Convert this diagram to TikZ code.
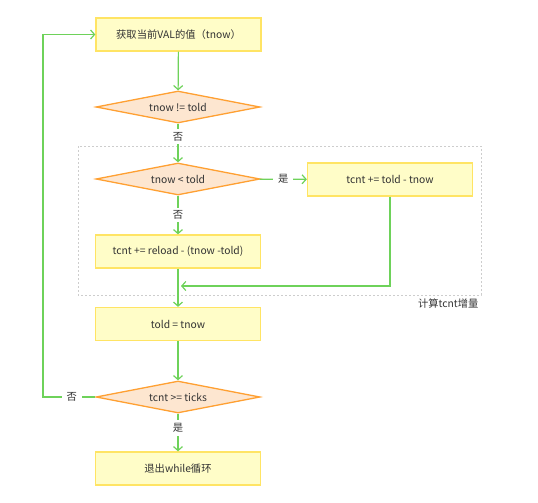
\documentclass[tikz,border=0pt]{standalone}
\usepackage{fontspec}
\setmainfont{Noto Sans CJK SC}
\usepackage{xcolor}
\definecolor{flowgreen}{RGB}{110,210,90}
\definecolor{boxfill}{RGB}{255,253,200}
\definecolor{boxline}{RGB}{255,228,100}
\definecolor{decfill}{RGB}{253,230,208}
\definecolor{decline}{RGB}{255,160,50}
\definecolor{txtgray}{RGB}{51,51,51}
\definecolor{framegray}{RGB}{205,205,205}
\usetikzlibrary{arrows.meta, shapes.geometric}

\tikzset{
  procbox/.style={draw=boxline, fill=boxfill, line width=1.3pt, minimum width=165pt, minimum height=33pt, inner sep=0pt},
  decision/.style={diamond, aspect=5.1, draw=decline, fill=decfill, line width=1.3pt, minimum width=164pt, minimum height=32pt, inner sep=0pt},
  flow/.style={draw=flowgreen, line width=1.2pt, -{Straight Barb[length=4pt,width=9pt]}},
  lbl/.style={fill=white, inner xsep=5pt, inner ysep=3pt, text=txtgray}
}

\begin{document}
\begin{tikzpicture}[x=1pt, y=-1pt, font=\fontsize{10.3pt}{12pt}\selectfont, text=txtgray]
  \useasboundingbox (0,0) rectangle (538,503);

  % group frame
  \draw[framegray, line width=0.8pt, dash pattern=on 2pt off 2pt] (78,146) rectangle (481,295);
  \node[anchor=east] (grouplbl) at (482,304) {计算tcnt增量};

  \node[procbox] (read) at (178.5,34.5) {获取当前VAL的值（tnow）};
  \node[decision] (neq) at (178,107) {tnow != told};
  \node[decision] (less) at (178,179) {tnow < told};
  \node[procbox] (incA) at (390,179.5) {tcnt += told - tnow};
  \node[procbox] (incB) at (178,251.5) {tcnt += reload - (tnow -told)};
  \node[procbox] (save) at (178,324) {told = tnow};
  \node[decision] (done) at (178,397) {tcnt >= ticks};
  \node[procbox] (quit) at (178,468.5) {退出while循环};

  \coordinate (join) at (181,286);
  \coordinate (loop) at (43,397);

  \draw[flow] (read) -- (neq);
  \draw[flow] (neq) -- node[lbl, pos=0.33] {否} (less);
  \draw[flow] (less) -- node[lbl] {是} (incA);
  \draw[flow] (less) -- node[lbl] {否} (incB);
  \draw[flow] (incA.south) |- (join);
  \draw[flow] (incB) -- (save);
  \draw[flow] (save) -- (done);
  \draw[flow] (done) -- node[lbl, pos=0.38] {是} (quit);
  \draw[flow] (done.west) -- node[lbl, pos=0.45] {否} (loop) |- (read.west);
\end{tikzpicture}
\end{document}
